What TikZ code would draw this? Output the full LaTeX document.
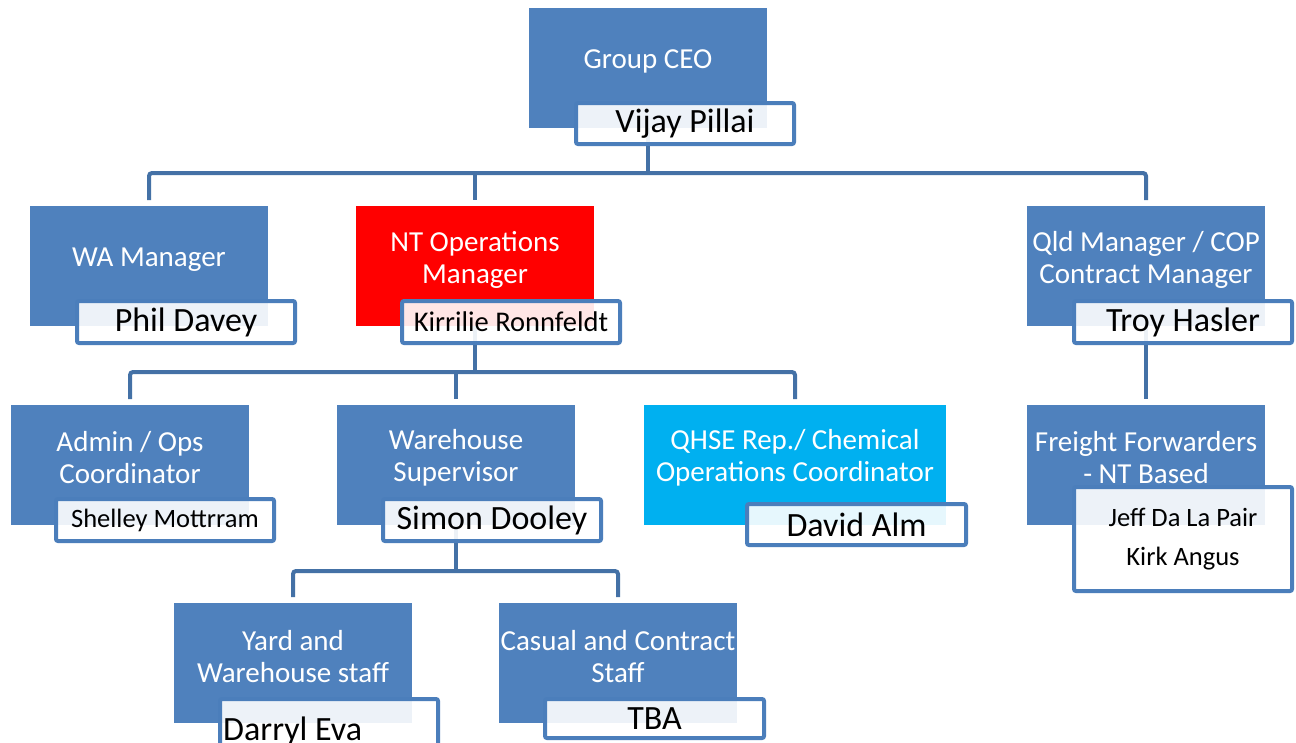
\documentclass[tikz,border=0pt]{standalone}
\usepackage{fontspec}
\setmainfont{Carlito}
\usetikzlibrary{calc}
\definecolor{boxblue}{HTML}{4F81BD}
\definecolor{boxred}{HTML}{FF0000}
\definecolor{boxcyan}{HTML}{00B0F0}
\definecolor{connblue}{HTML}{4471A6}
\definecolor{nameborder}{HTML}{4B7EBB}
\tikzset{
  box/.style={fill=boxblue, draw=none, anchor=north west, minimum width=238pt, minimum height=120pt, inner sep=0pt, outer sep=0pt},
  redbox/.style={box, fill=boxred},
  cyanbox/.style={box, fill=boxcyan, minimum width=302pt},
  ttl/.style={text=white, align=center, font=\fontsize{29}{32}\selectfont, inner sep=0pt},
  namebox/.style={draw=nameborder, line width=4pt, rounded corners=2pt, fill=white, fill opacity=0.9, text opacity=1, anchor=north west, minimum width=218pt, minimum height=42pt, inner sep=0pt, outer sep=0pt, align=center, font=\fontsize{34}{40}\selectfont},
  smallname/.style={font=\fontsize{26.5}{39}\selectfont},
  midname/.style={font=\fontsize{28.5}{34}\selectfont},
  conn/.style={draw=connblue, line width=4pt, rounded corners=3pt},
}
\begin{document}
\begin{tikzpicture}[x=1pt, y=-1pt]
\useasboundingbox (0,0) rectangle (1296,742);
\fill[white] (0,0) rectangle (1296,742);
\clip (0,0) rectangle (1296,742);

% blue / coloured boxes
\node[box] (ceo) at (529,8) {};
\node[box] (wa) at (30,206) {};
\node[redbox] (nt) at (356,206) {};
\node[box] (qld) at (1027,206) {};
\node[box] (admin) at (11,405) {};
\node[box] (wh) at (337,405) {};
\node[cyanbox] (qhse) at (644,405) {};
\node[box] (ff) at (1027,405) {};
\node[box] (yard) at (174,603) {};
\node[box] (cas) at (499,603) {};

% connectors
\coordinate (b1) at (648,173);
\coordinate (b2) at (475,372);
\coordinate (b3) at (456,571);
\draw[conn] (ceo.south) -- (b1);
\draw[conn] ([yshift=6pt]wa.north) |- (b1) -| ([yshift=6pt]qld.north);
\draw[conn] (b1 -| nt.north) -- ([yshift=6pt]nt.north);
\draw[conn] (nt.south) -- (b2);
\draw[conn] ([yshift=6pt]admin.north) |- (b2) -| ([yshift=6pt]qhse.north);
\draw[conn] (b2 -| wh.north) -- ([yshift=6pt]wh.north);
\draw[conn] (qld.south) -- ([yshift=6pt]ff.north);
\draw[conn] (wh.south) -- (b3);
\draw[conn] ([yshift=6pt]yard.north) |- (b3) -| ([yshift=6pt]cas.north);

% titles
\node[ttl] (ceoT) at ($(ceo.north)+(0,53)$) {Group CEO};
\node[ttl] (waT) at ($(wa.north)+(0,54)$) {WA Manager};
\node[ttl] (ntT) at ($(nt.north)+(0,54)$) {NT Operations\\Manager};
\node[ttl] (qldT) at ($(qld.north)+(0,54)$) {Qld Manager / COP\\Contract Manager};
\node[ttl] (adminT) at ($(admin.north)+(0,53)$) {Admin / Ops\\Coordinator};
\node[ttl] (whT) at ($(wh.north)+(0,53)$) {Warehouse\\Supervisor};
\node[ttl] (qhseT) at ($(qhse.north)+(0,53)$) {QHSE Rep./ Chemical\\Operations Coordinator};
\node[ttl] (ffT) at ($(ff.north)+(0,53)$) {Freight Forwarders\\- NT Based};
\node[ttl] (yardT) at ($(yard.north)+(0,54)$) {Yard and\\Warehouse staff};
\node[ttl] (casT) at ($(cas.north)+(0,54)$) {Casual and Contract\\Staff};

% name boxes
\node[namebox, minimum height=41pt] (ceoN) at (576,103) {Vijay Pillai};
\node[namebox] (waN) at (77,301) {Phil Davey};
\node[namebox, midname] (ntN) at (402,301) {Kirrilie Ronnfeldt};
\node[namebox] (qldN) at (1074,301) {Troy Hasler};
\node[namebox, smallname] (adminN) at (56,499) {Shelley Mottrram};
\node[namebox] (whN) at (383,499) {Simon Dooley};
\node[namebox, minimum width=219pt, minimum height=41pt] (qhseN) at (747,504) {David Alm};
\node[namebox, smallname, minimum height=104pt] (ffN) at (1074,487) {Jeff Da La Pair\\Kirk Angus};
\node[namebox, minimum height=60pt] (yardN) at (220,699) {};
\node[anchor=base west, inner sep=0pt, font=\fontsize{34}{40}\selectfont] (yardName) at (223,740) {Darryl Eva};
\node[namebox, minimum width=219pt, minimum height=39pt] (casN) at (545,699) {TBA};
\end{tikzpicture}
\end{document}
